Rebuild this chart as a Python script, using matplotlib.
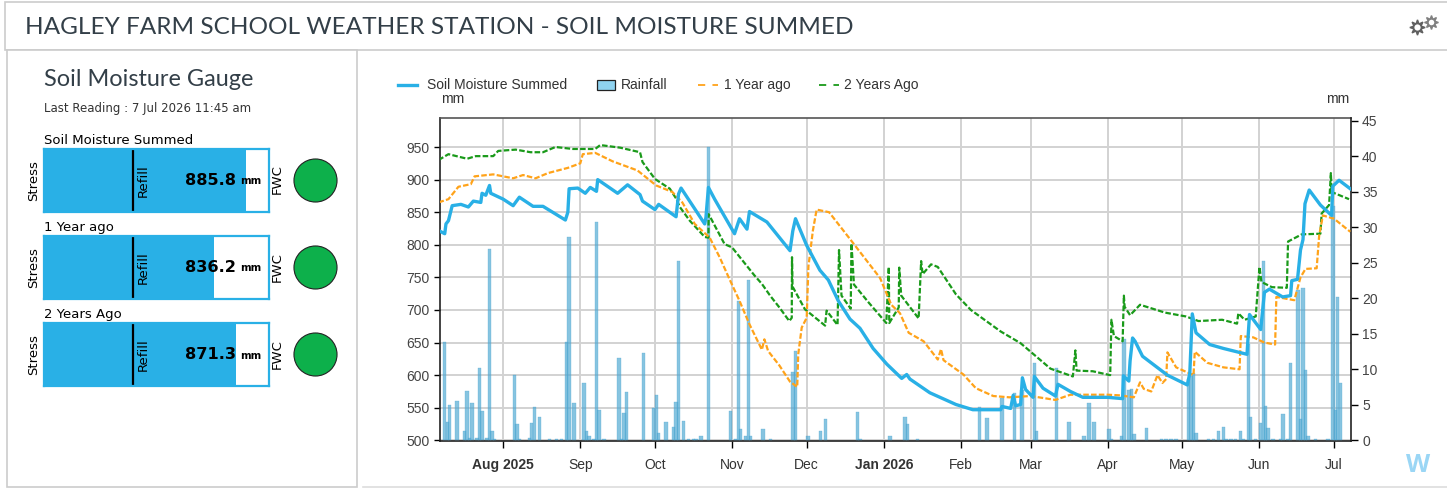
import matplotlib
matplotlib.use("Agg")
import matplotlib.pyplot as plt
import matplotlib.dates as mdates
from matplotlib.patches import Rectangle
from datetime import datetime, timedelta

# dates are "yyyy-mm-dd" plus an optional fraction of a day
soil_dates = ["2025-07-06", "2025-07-08.5", "2025-07-09", "2025-07-10", "2025-07-11.5", "2025-07-15", "2025-07-18", "2025-07-20", "2025-07-23", "2025-07-23.5", "2025-07-25", "2025-07-26.5", "2025-07-27", "2025-08-01", "2025-08-05", "2025-08-07.5", "2025-08-13", "2025-08-17", "2025-08-26", "2025-08-27", "2025-08-27.5", "2025-08-31", "2025-09-03", "2025-09-05", "2025-09-07.5", "2025-09-08", "2025-09-16", "2025-09-20", "2025-09-25", "2025-09-26", "2025-10-01", "2025-10-02.5", "2025-10-09.5", "2025-10-10.5", "2025-10-11.5", "2025-10-21", "2025-10-21.5", "2025-10-22.5", "2025-10-25", "2025-11-02", "2025-11-04", "2025-11-07", "2025-11-08", "2025-11-15", "2025-11-24.3", "2025-11-25.4", "2025-11-26.5", "2025-12-01", "2025-12-06.3", "2025-12-09.7", "2025-12-13.7", "2025-12-18.4", "2025-12-22.4", "2025-12-27.7", "2026-01-02.2", "2026-01-08.2", "2026-01-10.2", "2026-01-11.5", "2026-01-19.5", "2026-01-30", "2026-02-05.8", "2026-02-17", "2026-02-17.5", "2026-02-21", "2026-02-22", "2026-02-23", "2026-02-25", "2026-02-25.7", "2026-02-27", "2026-03-02", "2026-03-02.5", "2026-03-06", "2026-03-11", "2026-03-12", "2026-03-17", "2026-03-22", "2026-04-01", "2026-04-07", "2026-04-07.3", "2026-04-09.5", "2026-04-10", "2026-04-11", "2026-04-12", "2026-04-15", "2026-04-25", "2026-05-03", "2026-05-04", "2026-05-05", "2026-05-06.5", "2026-05-12", "2026-05-17.5", "2026-05-27", "2026-05-28", "2026-06-01.5", "2026-06-03", "2026-06-05", "2026-06-10.3", "2026-06-13.5", "2026-06-14", "2026-06-16.3", "2026-06-17.5", "2026-06-18.5", "2026-06-19.3", "2026-06-21", "2026-06-25.5", "2026-06-30", "2026-06-30.5", "2026-07-03", "2026-07-07.5"]
soil_mm = [822, 817, 832, 837, 860, 862, 858, 867, 865, 879, 876, 891, 879, 870, 860, 873, 859, 859, 838, 850, 886, 887, 879, 888, 882, 900, 879, 892, 877, 867, 854, 862, 843, 878, 887, 832, 842, 888, 870, 817, 840, 824, 851, 835, 791, 821, 840, 799, 761, 746, 714, 686, 672, 641, 617, 595, 601, 594, 573, 555, 547, 547, 552, 549, 569, 553, 555, 596, 578, 566, 598, 580, 568, 586, 575, 566, 566, 564, 599, 591, 622, 657, 652, 629, 600, 585, 603, 694, 665, 647, 641, 632, 693, 670, 727, 732, 720, 722, 745, 747, 792, 808, 863, 884, 861, 845, 890, 899, 886]

year1_dates = ["2025-07-06", "2025-07-10", "2025-07-14", "2025-07-19", "2025-07-20.5", "2025-07-28", "2025-08-05", "2025-08-09", "2025-08-14", "2025-08-19", "2025-08-27", "2025-09-01", "2025-09-02", "2025-09-07", "2025-09-14", "2025-09-24", "2025-10-01.5", "2025-10-08", "2025-10-12", "2025-10-17", "2025-10-23", "2025-10-27", "2025-10-31", "2025-11-04", "2025-11-08", "2025-11-13", "2025-11-14", "2025-11-15.5", "2025-11-20", "2025-11-24.3", "2025-11-27.2", "2025-11-27.6", "2025-11-29", "2025-12-01", "2025-12-01.7", "2025-12-03.5", "2025-12-05", "2025-12-10", "2025-12-20", "2025-12-30.5", "2026-01-04", "2026-01-07.5", "2026-01-11", "2026-01-17", "2026-01-22.7", "2026-01-24", "2026-01-25", "2026-02-02", "2026-02-07", "2026-02-14", "2026-02-20.5", "2026-03-01", "2026-03-11", "2026-03-17", "2026-04-01", "2026-04-06", "2026-04-11.5", "2026-04-14", "2026-04-15.5", "2026-04-18.5", "2026-04-21", "2026-04-23", "2026-04-24.5", "2026-04-25", "2026-04-28.5", "2026-05-05.5", "2026-05-06", "2026-05-11", "2026-05-17.5", "2026-05-24", "2026-05-24.5", "2026-05-29.5", "2026-06-03", "2026-06-07.3", "2026-06-07.8", "2026-06-15", "2026-06-17.5", "2026-06-19.5", "2026-06-24", "2026-06-25", "2026-06-26.5", "2026-07-01", "2026-07-07.5"]
year1_mm = [865, 870, 889, 893, 905, 908, 902, 907, 902, 910, 918, 925, 939, 941, 928, 914, 891, 881, 865, 832, 811, 781, 747, 714, 678, 639, 655, 637, 615, 590, 582, 632, 673, 688, 767, 822, 854, 850, 801, 749, 708, 695, 665, 652, 624, 640, 623, 601, 580, 568, 566, 568, 562, 570, 570, 569, 566, 589, 579, 575, 600, 588, 594, 635, 612, 600, 636, 619, 612, 609, 660, 658, 650, 647, 720, 715, 750, 763, 764, 814, 845, 840, 820]

year2_dates = ["2025-07-06", "2025-07-10", "2025-07-17.5", "2025-07-21", "2025-07-28", "2025-07-30", "2025-08-06", "2025-08-12", "2025-08-17", "2025-08-22", "2025-08-29", "2025-09-07", "2025-09-09", "2025-09-17", "2025-09-25", "2025-09-26", "2025-10-01", "2025-10-07", "2025-10-09.5", "2025-10-11", "2025-10-15", "2025-10-21", "2025-10-22.5", "2025-10-22.6", "2025-10-29", "2025-11-01", "2025-11-10", "2025-11-13", "2025-11-16.3", "2025-11-20", "2025-11-24", "2025-11-25", "2025-11-25.1", "2025-11-25.3", "2025-11-30.3", "2025-12-08.4", "2025-12-09", "2025-12-13.4", "2025-12-14", "2025-12-15", "2025-12-18.7", "2025-12-19", "2025-12-20", "2025-12-26", "2026-01-02", "2026-01-03", "2026-01-03.2", "2026-01-07", "2026-01-07.2", "2026-01-08", "2026-01-15", "2026-01-16", "2026-01-16.6", "2026-01-20", "2026-01-22.7", "2026-01-30", "2026-02-05", "2026-02-17", "2026-02-25", "2026-03-09", "2026-03-18", "2026-03-19", "2026-03-19.5", "2026-03-26", "2026-04-02", "2026-04-02.5", "2026-04-03.5", "2026-04-07", "2026-04-07.5", "2026-04-07.8", "2026-04-10", "2026-04-14", "2026-04-24", "2026-05-02.5", "2026-05-07.5", "2026-05-17", "2026-05-23", "2026-05-23.5", "2026-05-26", "2026-05-30.5", "2026-06-01", "2026-06-01.8", "2026-06-06", "2026-06-12", "2026-06-12.5", "2026-06-18", "2026-06-25.5", "2026-06-26", "2026-06-29", "2026-06-29.7", "2026-06-30", "2026-07-07"]
year2_mm = [930, 939, 932, 936, 936, 944, 946, 942, 942, 950, 947, 947, 953, 949, 942, 927, 901, 886, 871, 858, 837, 812, 811, 847, 801, 796, 753, 740, 722, 704, 683, 688, 781, 736, 701, 676, 699, 677, 792, 722, 702, 802, 739, 711, 680, 766, 680, 704, 765, 722, 687, 775, 755, 770, 766, 724, 700, 667, 649, 610, 598, 638, 607, 606, 600, 685, 660, 652, 722, 705, 692, 708, 696, 690, 683, 685, 679, 695, 685, 690, 766, 743, 735, 734, 805, 816, 817, 848, 861, 910, 881, 870]

rain_dates = ["2025-07-08", "2025-07-09", "2025-07-10", "2025-07-13", "2025-07-16", "2025-07-17", "2025-07-18", "2025-07-19", "2025-07-21", "2025-07-22", "2025-07-23", "2025-07-25", "2025-07-26", "2025-07-27", "2025-07-28", "2025-08-05", "2025-08-06", "2025-08-07", "2025-08-11", "2025-08-12", "2025-08-13", "2025-08-15", "2025-08-19", "2025-08-22", "2025-08-24", "2025-08-26", "2025-08-27", "2025-08-29", "2025-09-02", "2025-09-03", "2025-09-04", "2025-09-06", "2025-09-07", "2025-09-08", "2025-09-10", "2025-09-16", "2025-09-17", "2025-09-18", "2025-09-19", "2025-09-26", "2025-09-30", "2025-10-01", "2025-10-02", "2025-10-05", "2025-10-08", "2025-10-09", "2025-10-10", "2025-10-12", "2025-10-14", "2025-10-16", "2025-10-17", "2025-10-19", "2025-10-22", "2025-10-31", "2025-11-02", "2025-11-03", "2025-11-04", "2025-11-06", "2025-11-07", "2025-11-08", "2025-11-13", "2025-11-16", "2025-11-25", "2025-11-26", "2025-12-01", "2025-12-06", "2025-12-08", "2025-12-21", "2025-12-22", "2026-01-03", "2026-01-09", "2026-01-10", "2026-01-14", "2026-02-08", "2026-02-11", "2026-02-17", "2026-02-22", "2026-02-25", "2026-03-02", "2026-03-03", "2026-03-11", "2026-03-16", "2026-03-22", "2026-03-24", "2026-03-26", "2026-04-01", "2026-04-02", "2026-04-06", "2026-04-07", "2026-04-09", "2026-04-10", "2026-04-11", "2026-04-16", "2026-04-22", "2026-04-24", "2026-04-26", "2026-04-28", "2026-05-03", "2026-05-04", "2026-05-05", "2026-05-06", "2026-05-11", "2026-05-13", "2026-05-15", "2026-05-17", "2026-05-18", "2026-05-20", "2026-05-22", "2026-05-24", "2026-05-25", "2026-05-27", "2026-05-28", "2026-05-30", "2026-06-01", "2026-06-02", "2026-06-03", "2026-06-04", "2026-06-06", "2026-06-09", "2026-06-10", "2026-06-12", "2026-06-13", "2026-06-16", "2026-06-17", "2026-06-18", "2026-06-19", "2026-06-20", "2026-06-23", "2026-06-28", "2026-06-30", "2026-07-01", "2026-07-02", "2026-07-03"]
rain_mm = [13.8, 2.5, 5.0, 5.5, 1.2, 6.9, 0.3, 5.2, 0.3, 10.1, 4.1, 0.3, 26.9, 1.2, 0.1, 9.2, 2.3, 0.1, 0.3, 2.4, 4.7, 3.3, 0.1, 0.1, 0.1, 13.8, 28.6, 5.2, 8.0, 1.2, 0.5, 0.1, 30.8, 4.3, 0.1, 11.5, 0.1, 3.8, 6.8, 12.2, 4.5, 6.4, 1.0, 2.6, 1.9, 5.4, 25.3, 2.7, 0.2, 0.1, 0.1, 0.5, 41.3, 4.1, 0.1, 19.6, 1.6, 0.5, 22.6, 0.5, 1.5, 0.2, 9.6, 12.6, 0.5, 1.2, 2.9, 4.0, 0.2, 0.5, 3.3, 2.3, 0.1, 4.7, 3.1, 5.9, 6.6, 7.0, 10.8, 1.2, 10.1, 2.6, 0.5, 5.2, 2.6, 1.5, 0.2, 0.5, 14.3, 7.1, 7.2, 0.9, 1.7, 0.2, 0.1, 0.1, 0.1, 8.6, 9.0, 9.5, 1.0, 0.1, 0.1, 1.3, 1.9, 0.2, 0.1, 0.1, 1.3, 0.2, 13.6, 3.3, 0.2, 2.4, 25.2, 4.8, 1.7, 0.1, 0.1, 3.7, 0.2, 10.8, 21.2, 2.9, 21.5, 9.9, 0.5, 0.1, 0.1, 33.0, 4.3, 20.2, 8.1]

month_ticks = ["2025-08-01", "2025-09-01", "2025-10-01", "2025-11-01", "2025-12-01", "2026-01-01", "2026-02-01", "2026-03-01", "2026-04-01", "2026-05-01", "2026-06-01", "2026-07-01"]
month_labels = ["Aug 2025", "Sep", "Oct", "Nov", "Dec", "Jan 2026", "Feb", "Mar", "Apr", "May", "Jun", "Jul"]
left_ticks = [500, 550, 600, 650, 700, 750, 800, 850, 900, 950]
right_ticks = [0, 5, 10, 15, 20, 25, 30, 35, 40, 45]

gauge_names = ["Soil Moisture Summed", "1 Year ago", "2 Years Ago"]
gauge_values = [885.8, 836.2, 871.3]
gauge_min = 574
gauge_max = 921.5
gauge_refill = 712

BLUE = "#29b0e6"
ORANGE = "#ffa31a"
GREEN = "#1a9a1a"
GAUGE_GREEN = "#0db04b"
TEXT = "#333f48"
W, H = 1447, 488


def to_num(stamp):
    frac = float("0" + stamp[10:]) if len(stamp) > 10 else 0.0
    return mdates.date2num(datetime.strptime(stamp[:10], "%Y-%m-%d") + timedelta(days=frac))


def px_axes(x0, y0, x1, y1):
    # axes placed by reference pixels, y measured from the top
    return fig.add_axes([x0 / W, 1 - y1 / H, (x1 - x0) / W, (y1 - y0) / H])


fig = plt.figure(figsize=(W / 100, H / 100), dpi=100)

# page furniture, drawn in pixel coordinates
page = fig.add_axes([0, 0, 1, 1])
page.set_xlim(0, W)
page.set_ylim(H, 0)
page.axis("off")
page.add_patch(Rectangle((5, 2), W, 47.5, fc="white", ec="#cccccc", lw=1.2))
page.add_patch(Rectangle((6.5, 49.5), 350.5, 437, fc="white", ec="#cccccc", lw=1.2))
page.plot([363, W], [487, 487], color="#dddddd", lw=1.2)
page.text(25, 28, "HAGLEY FARM SCHOOL WEATHER STATION - SOIL MOISTURE SUMMED",
          family="Lato", fontsize=17.6, color=TEXT, va="center")
page.text(44, 79, "Soil Moisture Gauge", family="Lato", fontsize=16.9, color=TEXT, va="center")
page.text(44, 108.5, "Last Reading : 7 Jul 2026 11:45 am", family="DejaVu Sans", fontsize=8.45,
          color="#333333", va="center")
page.text(1418, 466, "W", family="Open Sans", fontsize=18, fontweight="bold", color="#9ad6f5",
          ha="center", va="center")
page.plot([1431], [21.5], marker=(8, 1, 0), ms=10, color="#808080", ls="none")
page.plot([1431], [21.5], marker="o", ms=5, mfc="white", mec="#808080", mew=1, ls="none")
page.plot([1417], [27], marker=(8, 1, 0), ms=11, color="#606060", ls="none")
page.plot([1417], [27], marker="o", ms=5.5, mfc="white", mec="#606060", mew=1, ls="none")

# gauges
for i, (name, value) in enumerate(zip(gauge_names, gauge_values)):
    top = 149 + i * 87.2
    g = px_axes(44, top, 269, top + 63)
    g.barh([0], [value - gauge_min], left=gauge_min, height=1, color=BLUE)
    g.axvline(gauge_refill, ymin=0.03, ymax=0.97, color="black", lw=1.6)
    g.set_xlim(gauge_min, gauge_max)
    g.set_ylim(-0.5, 0.5)
    g.set_xticks([])
    g.set_yticks([])
    for spine in g.spines.values():
        spine.set_color(BLUE)
        spine.set_linewidth(1.6)
    mid = top + 31.5
    page.text(44, top - 8.5, name, family="DejaVu Sans", fontsize=9.5, color="black", va="center")
    page.text(34, mid, "Stress", family="DejaVu Sans", fontsize=9.5, rotation=90, ha="center", va="center")
    g.text(0.44, 0.5, "Refill", transform=g.transAxes, family="DejaVu Sans", fontsize=9.5, rotation=90,
           ha="center", va="center", color="black")
    page.text(277, mid - 1, "FWC", family="DejaVu Sans", fontsize=9.5, rotation=90, ha="center", va="center")
    g.text(0.853, 0.5, f"{value}", transform=g.transAxes, family="DejaVu Sans", fontweight="bold",
           fontsize=11.6, ha="right", va="center", color="black")
    g.text(0.871, 0.49, "mm", transform=g.transAxes, family="DejaVu Sans", fontweight="bold",
           fontsize=7.3, ha="left", va="center", color="black")
    page.plot([315], [mid - 1], marker="o", ms=31, mfc=GAUGE_GREEN, mec="#222222", mew=0.8, ls="none")

# main chart: grid at the bottom, rain in the middle, lines on top
ax = px_axes(439.5, 118, 1351, 441)
ax.set_ylim(500 - 1.0, 994.5)
ax.set_xlim(to_num("2025-07-06.4"), to_num("2026-07-07.8"))
ax.set_xticks([to_num(d) for d in month_ticks])
ax.set_xticklabels(month_labels, family="Liberation Sans", fontsize=10, color="#333333")
for lab, txt in zip(ax.get_xticklabels(), month_labels):
    if " " in txt:
        lab.set_fontweight("bold")
ax.set_yticks(left_ticks)
ax.set_yticklabels(left_ticks, family="Liberation Sans", fontsize=10, color="#444444")
ax.tick_params(axis="x", length=5, width=1, pad=7)
ax.tick_params(axis="y", length=4, width=1, pad=3)
ax.grid(True, color="#d2d2d2", lw=1.4)
ax.set_axisbelow(True)
for side in ["left", "bottom"]:
    ax.spines[side].set_color("#222222")
    ax.spines[side].set_linewidth(1.2)
ax.spines["top"].set_color("#555555")
ax.spines["top"].set_linewidth(1.2)
ax.spines["right"].set_visible(False)

rain_ax = ax.twinx()
rain_x = [to_num(d) + 0.5 for d in rain_dates]
rain_bars = rain_ax.bar(rain_x, rain_mm, width=1.35, color="#4fa8d2", alpha=0.68, edgecolor="#4fa8d2", lw=0.3)
rain_ax.set_ylim(-0.14, 45.4)
rain_ax.set_yticks(right_ticks)
rain_ax.set_yticklabels(right_ticks, family="Liberation Sans", fontsize=10, color="#444444")
rain_ax.tick_params(axis="y", length=5, width=1, pad=3)
rain_ax.spines["right"].set_color("#222222")
rain_ax.spines["right"].set_linewidth(1.2)
for side in ["top", "left", "bottom"]:
    rain_ax.spines[side].set_visible(False)

line_ax = ax.twinx()
line_ax.set_ylim(ax.get_ylim())
line_ax.axis("off")
line_ax.plot([to_num(d) for d in year2_dates], year2_mm, color=GREEN, lw=1.6, ls=(0, (2.5, 1)))
line_ax.plot([to_num(d) for d in year1_dates], year1_mm, color=ORANGE, lw=1.6, ls=(0, (2.5, 1)))
line_ax.plot([to_num(d) for d in soil_dates], soil_mm, color=BLUE, lw=2.4)

# legend row above the chart
page.plot([398, 417], [85, 85], color=BLUE, lw=2.4)
page.text(427, 85, "Soil Moisture Summed", family="Liberation Sans", fontsize=10, color="#333333", va="center")
page.add_patch(Rectangle((597, 80), 18, 10, fc="#8fd3f0", ec="#222222", lw=0.9))
page.text(621, 85, "Rainfall", family="Liberation Sans", fontsize=10, color="#333333", va="center")
page.plot([698, 718], [85, 85], color=ORANGE, lw=1.3, ls=(0, (4, 4)))
page.text(724, 85, "1 Year ago", family="Liberation Sans", fontsize=10, color="#333333", va="center")
page.plot([819, 839], [85, 85], color=GREEN, lw=1.3, ls=(0, (4, 4)))
page.text(844, 85, "2 Years Ago", family="Liberation Sans", fontsize=10, color="#333333", va="center")
page.text(453, 99, "mm", family="Liberation Sans", fontsize=10, color="#333333", ha="center", va="center")
page.text(1338, 99, "mm", family="Liberation Sans", fontsize=10, color="#333333", ha="center", va="center")

fig.savefig("out.png", dpi=100)
